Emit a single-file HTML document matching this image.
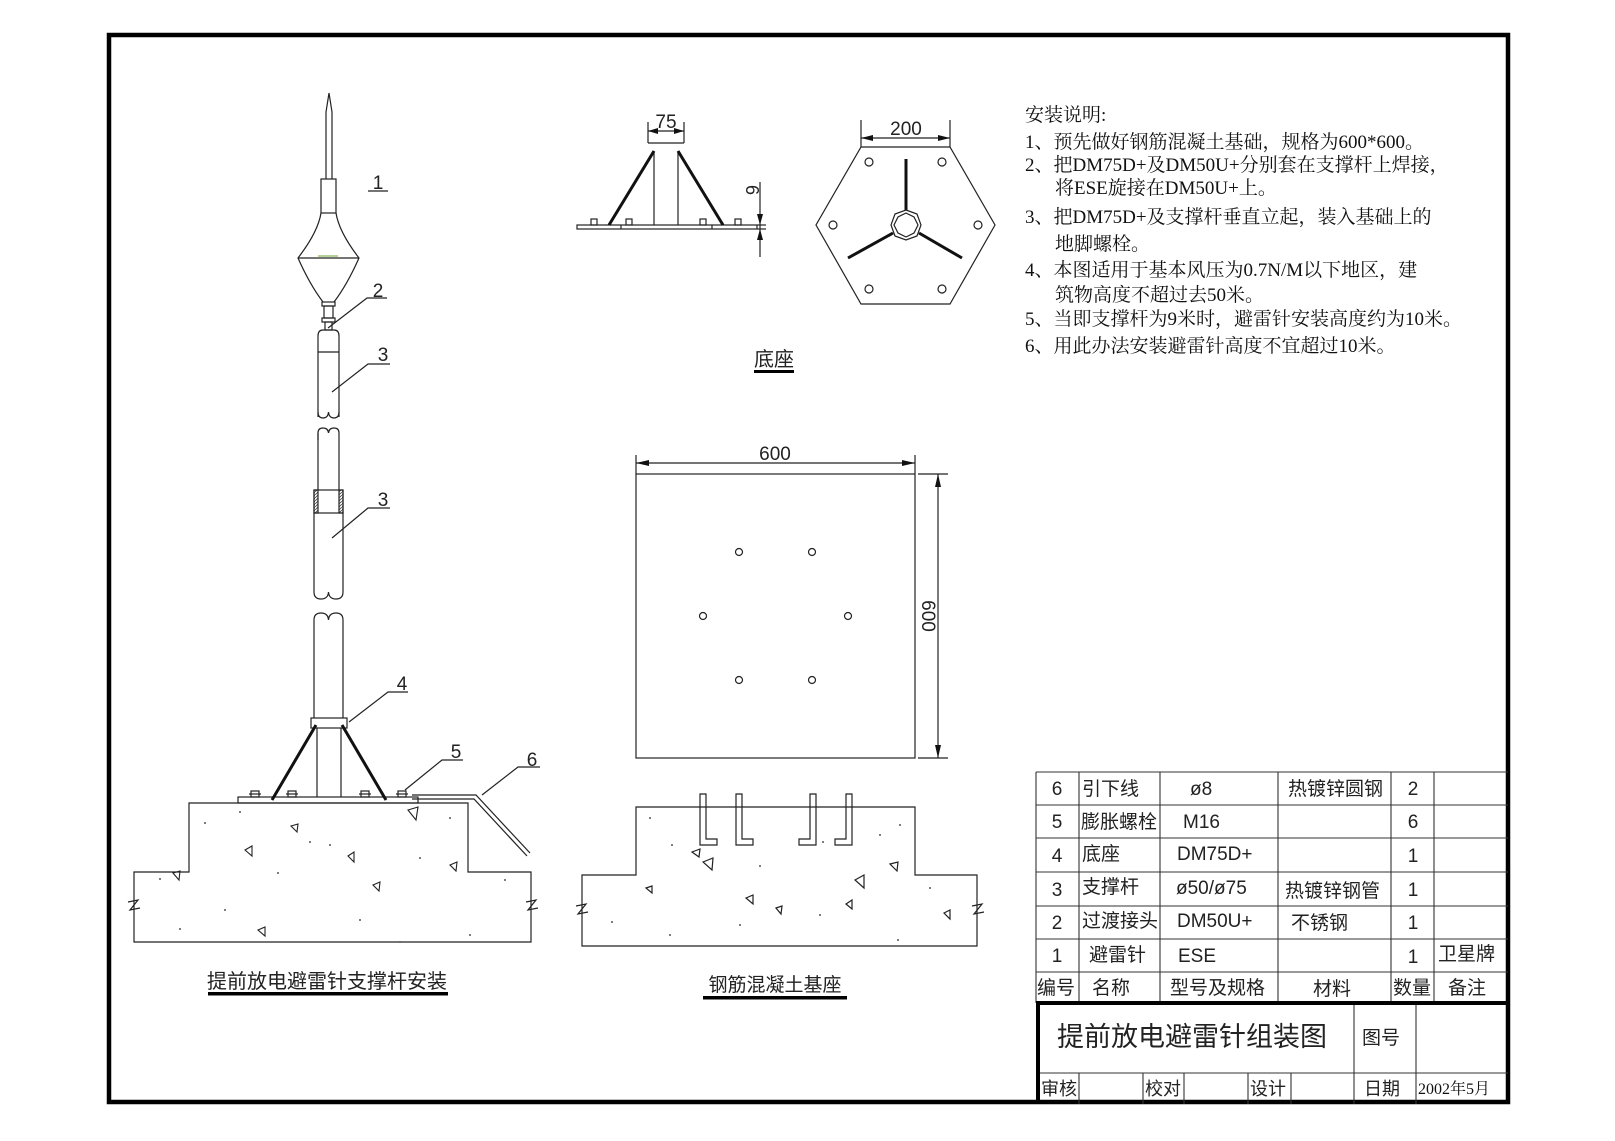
<!DOCTYPE html>
<html><head><meta charset="utf-8"><style>
html,body{margin:0;padding:0;background:#fff;}
svg{display:block;}
.t{font-family:"Liberation Sans","Noto Sans CJK SC",sans-serif;fill:#222;}
.s{font-family:"Liberation Serif","Noto Serif CJK SC",serif;fill:#111;}
</style></head><body>
<svg width="1615" height="1141" viewBox="0 0 1615 1141" xmlns="http://www.w3.org/2000/svg">
<rect width="1615" height="1141" fill="#fff"/>
<!-- frame -->
<rect x="109" y="35" width="1399" height="1067" fill="none" stroke="#000" stroke-width="4.5"/>

<g fill="none" stroke="#222" stroke-width="1.2">
<!-- ===== Rod assembly ===== -->
<path d="M329,93 L326,112 L326,179 M329,93 L332,112 L332,179"/>
<rect x="321" y="179" width="15" height="34"/>
<path d="M321,213 Q318,232 298,258 Q310,285 323,302 M336,213 Q339,232 359,258 Q347,285 334,302"/>
<line x1="298" y1="258" x2="359" y2="258"/>
<line x1="318" y1="256" x2="338" y2="256" stroke="#6a3" stroke-width="1"/>
<rect x="322" y="302" width="13" height="4"/>
<rect x="324" y="306" width="9" height="12"/>
<rect x="322" y="318" width="13" height="4"/>
<rect x="325" y="322" width="7" height="8"/>
<path d="M318,417 V336 Q318,330 323,330 H334 Q339,330 339,336 V417"/>
<line x1="318" y1="352" x2="339" y2="352"/>
<path d="M318,412 Q318,418 323,418 Q328,418 328.5,412 Q329,418 334,418 Q339,418 339,412"/>
<path d="M318,440 V433 Q318,428 323,428 Q328,428 328.5,433 Q329,428 334,428 Q339,428 339,433 V490"/>
<line x1="318" y1="433" x2="318" y2="490"/>
<rect x="314" y="490" width="29" height="23"/>
<rect x="314" y="490" width="4" height="23" fill="url(#hat)"/>
<rect x="339" y="490" width="4" height="23" fill="url(#hat)"/>
<path d="M314,513 V592 Q314,599 321,599 Q328,599 328.5,592 Q329,599 336,599 Q343,599 343,592 V513"/>
<path d="M314,718 V620 Q314,613 321,613 Q328,613 328.5,620 Q329,613 336,613 Q343,613 343,620 V718"/>
<rect x="311" y="718" width="36" height="10"/>
<line x1="317" y1="728" x2="317" y2="797"/>
<line x1="341" y1="728" x2="341" y2="797"/>
<rect x="238" y="797" width="180" height="6"/>
<!-- bolts -->
<g>
<rect x="251" y="791" width="8" height="6"/><line x1="249" y1="794" x2="261" y2="794"/>
<rect x="288" y="791" width="8" height="6"/><line x1="286" y1="794" x2="298" y2="794"/>
<rect x="361" y="791" width="8" height="6"/><line x1="359" y1="794" x2="371" y2="794"/>
<rect x="398" y="791" width="8" height="6"/><line x1="396" y1="794" x2="408" y2="794"/>
</g>
<!-- wire 6 -->
<path d="M412,795 H476 L530,853 M412,799 H474 L527,856"/>
<!-- concrete left -->
<path d="M189,803 H468 V872 H531 V942 H134 V872 H189 Z"/>
<path d="M128,902 L138,900 L130,910 L140,908"/>
<path d="M526,902 L536,900 L528,910 L538,908"/>
<!-- leaders -->
<path d="M368,191 H388"/>
<path d="M328,328 L367,298 H387"/>
<path d="M332,392 L368,364 H390"/>
<path d="M332,538 L368,508 H390"/>
<path d="M349,722 L388,692 H408"/>
<path d="M405,790 L442,760 H463"/>
<path d="M482,795 L518,767 H540"/>
</g>
<g stroke="#111" stroke-width="3" fill="none">
<line x1="316" y1="725" x2="272" y2="800"/>
<line x1="342" y1="725" x2="386" y2="800"/>
</g>
<defs><pattern id="hat" width="3" height="3" patternUnits="userSpaceOnUse"><path d="M0,3 L3,0" stroke="#444" stroke-width="0.8"/></pattern></defs>

<!-- triangles & dots left concrete -->
<g fill="none" stroke="#222" stroke-width="1.1">
<path d="M408,810 L418,807 L416,820 Z"/><path d="M291,826 L298,824 L297,832 Z"/>
<path d="M245,850 L252,846 L252,856 Z"/><path d="M348,856 L354,852 L354,862 Z"/>
<path d="M450,865 L457,862 L456,871 Z"/><path d="M373,885 L380,882 L379,891 Z"/>
<path d="M173,873 L180,871 L179,880 Z"/><path d="M258,930 L265,927 L265,936 Z"/>
</g>
<g fill="#555">
<circle cx="240" cy="812" r="1"/><circle cx="205" cy="823" r="1"/><circle cx="310" cy="842" r="1"/><circle cx="330" cy="845" r="1"/><circle cx="160" cy="879" r="1"/><circle cx="180" cy="929" r="1"/><circle cx="420" cy="858" r="1"/><circle cx="450" cy="818" r="1"/><circle cx="278" cy="873" r="1"/><circle cx="360" cy="920" r="1"/><circle cx="470" cy="935" r="1"/><circle cx="505" cy="880" r="1"/><circle cx="225" cy="910" r="1"/><circle cx="400" cy="942" r="1"/>
</g>

<!-- ===== base side view ===== -->
<g fill="none" stroke="#222" stroke-width="1.2">
<rect x="577" y="225" width="180" height="4"/>
<line x1="621" y1="225" x2="621" y2="229"/><line x1="712" y1="225" x2="712" y2="229"/>
<line x1="654" y1="151" x2="654" y2="225"/><line x1="678" y1="151" x2="678" y2="225"/>
<rect x="591" y="219" width="6" height="6"/><rect x="626" y="219" width="6" height="6"/><rect x="700" y="219" width="6" height="6"/><rect x="735" y="219" width="6" height="6"/>
<line x1="648" y1="122" x2="648" y2="143"/><line x1="684" y1="122" x2="684" y2="143"/>
<line x1="648" y1="131" x2="684" y2="131"/>
<line x1="648" y1="143" x2="684" y2="143"/>
<line x1="760" y1="182" x2="760" y2="257"/>
<line x1="757" y1="225" x2="766" y2="225"/><line x1="757" y1="229" x2="766" y2="229"/>
</g>
<g stroke="#111" stroke-width="3"><line x1="654" y1="151" x2="609" y2="225"/><line x1="678" y1="151" x2="723" y2="225"/></g>
<g fill="#111">
<path d="M648,131 L658,128 L658,134 Z"/><path d="M684,131 L674,128 L674,134 Z"/>
<path d="M760,225 L757,214 L763,214 Z"/><path d="M760,229 L757,240 L763,240 Z"/>
</g>
<text x="666" y="128" class="t" font-size="19" text-anchor="middle">75</text>
<text transform="translate(746,190) rotate(90)" class="t" font-size="18" text-anchor="middle">6</text>

<!-- hexagon -->
<g fill="none" stroke="#222" stroke-width="1.2">
<polygon points="861,147 950,147 995,225 950,304 861,304 816,225"/>
<line x1="861" y1="120" x2="861" y2="147"/><line x1="950" y1="120" x2="950" y2="147"/>
<line x1="861" y1="138" x2="950" y2="138"/>
<polygon points="906,210 917,214 921,225 917,236 906,240 895,236 891,225 895,214"/>
<polygon points="906,213 914,217 918,225 914,233 906,237 898,233 894,225 898,217"/>
<circle cx="869" cy="162" r="4"/><circle cx="942" cy="162" r="4"/><circle cx="833" cy="225" r="4"/><circle cx="978" cy="225" r="4"/><circle cx="869" cy="289" r="4"/><circle cx="942" cy="289" r="4"/>
</g>
<g stroke="#111" stroke-width="3"><line x1="906" y1="159" x2="906" y2="210"/><line x1="893" y1="233" x2="848" y2="258"/><line x1="919" y1="233" x2="962" y2="258"/></g>
<g fill="#111"><path d="M861,138 L873,135 L873,141 Z"/><path d="M950,138 L938,135 L938,141 Z"/></g>
<text x="906" y="135" class="t" font-size="19" text-anchor="middle">200</text>
<text x="774" y="366" class="t" font-size="20" text-anchor="middle">底座</text>
<rect x="754" y="370" width="40" height="3" fill="#000"/>

<!-- ===== square plan ===== -->
<g fill="none" stroke="#222" stroke-width="1.2">
<rect x="636" y="474" width="279" height="284"/>
<line x1="636" y1="455" x2="636" y2="474"/><line x1="915" y1="455" x2="915" y2="474"/>
<line x1="636" y1="463" x2="915" y2="463"/>
<line x1="918" y1="474" x2="948" y2="474"/><line x1="918" y1="758" x2="948" y2="758"/>
<line x1="938" y1="474" x2="938" y2="758"/>
<circle cx="739" cy="552" r="3.5"/><circle cx="812" cy="552" r="3.5"/><circle cx="703" cy="616" r="3.5"/><circle cx="848" cy="616" r="3.5"/><circle cx="739" cy="680" r="3.5"/><circle cx="812" cy="680" r="3.5"/>
</g>
<g fill="#111"><path d="M636,463 L649,460 L649,466 Z"/><path d="M915,463 L902,460 L902,466 Z"/><path d="M938,474 L935,487 L941,487 Z"/><path d="M938,758 L935,745 L941,745 Z"/></g>
<text x="775" y="460" class="t" font-size="19" text-anchor="middle">600</text>
<text transform="translate(922,616) rotate(90)" class="t" font-size="19" text-anchor="middle">600</text>

<!-- concrete right -->
<g fill="none" stroke="#222" stroke-width="1.2">
<path d="M636,807 H915 V875 H977 V946 H582 V875 H636 Z"/>
<path d="M576,906 L586,904 L578,914 L588,912"/>
<path d="M972,906 L982,904 L974,914 L984,912"/>
<path d="M700,794 V845 H717 V839 H706 V794 Z"/>
<path d="M736,794 V845 H753 V839 H742 V794 Z"/>
<path d="M816,794 V845 H799 V839 H810 V794 Z"/>
<path d="M852,794 V845 H835 V839 H846 V794 Z"/>
<path d="M692,852 L700,849 L699,857 Z"/><path d="M703,862 L713,858 L712,870 Z"/>
<path d="M646,888 L652,886 L652,893 Z"/><path d="M746,898 L753,895 L753,904 Z"/>
<path d="M776,908 L782,906 L781,914 Z"/><path d="M855,880 L864,875 L864,888 Z"/>
<path d="M846,904 L852,900 L852,909 Z"/><path d="M890,864 L898,862 L897,871 Z"/>
<path d="M944,913 L950,910 L950,919 Z"/>
</g>
<g fill="#555"><circle cx="650" cy="818" r="1"/><circle cx="672" cy="845" r="1"/><circle cx="760" cy="866" r="1"/><circle cx="823" cy="842" r="1"/><circle cx="880" cy="835" r="1"/><circle cx="900" cy="825" r="1"/><circle cx="612" cy="922" r="1"/><circle cx="670" cy="935" r="1"/><circle cx="740" cy="925" r="1"/><circle cx="820" cy="915" r="1"/><circle cx="930" cy="888" r="1"/><circle cx="898" cy="940" r="1"/></g>

<!-- captions -->
<text x="327" y="988" class="t" font-size="20" text-anchor="middle">提前放电避雷针支撑杆安装</text>
<rect x="208" y="992" width="240" height="3.5" fill="#000"/>
<text x="775" y="991" class="t" font-size="19" text-anchor="middle">钢筋混凝土基座</text>
<rect x="703" y="996" width="144" height="3.5" fill="#000"/>

<!-- part labels -->
<g class="t" font-size="19" text-anchor="middle" fill="#333">
<text x="378" y="189">1</text><text x="378" y="297">2</text><text x="383" y="361">3</text><text x="383" y="506">3</text><text x="402" y="690">4</text><text x="456" y="758">5</text><text x="532" y="766">6</text>
</g>

<!-- notes -->
<g class="s" font-size="19">
<text x="1025" y="121">安装说明:</text>
<text x="1025" y="148">1、预先做好钢筋混凝土基础，规格为600*600。</text>
<text x="1025" y="171">2、把DM75D+及DM50U+分别套在支撑杆上焊接，</text>
<text x="1055" y="194">将ESE旋接在DM50U+上。</text>
<text x="1025" y="223">3、把DM75D+及支撑杆垂直立起，装入基础上的</text>
<text x="1055" y="250">地脚螺栓。</text>
<text x="1025" y="276">4、本图适用于基本风压为0.7N/M以下地区，建</text>
<text x="1055" y="301">筑物高度不超过去50米。</text>
<text x="1025" y="325">5、当即支撑杆为9米时，避雷针安装高度约为10米。</text>
<text x="1025" y="352">6、用此办法安装避雷针高度不宜超过10米。</text>
</g>

<!-- table -->
<g fill="none" stroke="#333" stroke-width="1.1">
<line x1="1036" y1="772" x2="1508" y2="772"/><line x1="1036" y1="805" x2="1508" y2="805"/><line x1="1036" y1="838" x2="1508" y2="838"/><line x1="1036" y1="872" x2="1508" y2="872"/><line x1="1036" y1="906" x2="1508" y2="906"/><line x1="1036" y1="939" x2="1508" y2="939"/><line x1="1036" y1="972" x2="1508" y2="972"/>
<line x1="1036" y1="772" x2="1036" y2="1003"/><line x1="1079" y1="772" x2="1079" y2="1003"/><line x1="1160" y1="772" x2="1160" y2="1003"/><line x1="1278" y1="772" x2="1278" y2="1003"/><line x1="1391" y1="772" x2="1391" y2="1003"/><line x1="1434" y1="772" x2="1434" y2="1003"/>
<line x1="1038" y1="1073" x2="1508" y2="1073"/>
<line x1="1354" y1="1003" x2="1354" y2="1104"/><line x1="1416" y1="1003" x2="1416" y2="1104"/>
<line x1="1079" y1="1073" x2="1079" y2="1104"/><line x1="1143" y1="1073" x2="1143" y2="1104"/><line x1="1184" y1="1073" x2="1184" y2="1104"/><line x1="1248" y1="1073" x2="1248" y2="1104"/><line x1="1291" y1="1073" x2="1291" y2="1104"/>
</g>
<g stroke="#000" stroke-width="4"><line x1="1036" y1="1003" x2="1510" y2="1003"/><line x1="1038" y1="1003" x2="1038" y2="1104"/></g>
<g class="t" font-size="19" fill="#333">
<text x="1057" y="795" text-anchor="middle">6</text><text x="1082" y="795">引下线</text><text x="1190" y="795">ø8</text><text x="1288" y="795">热镀锌圆钢</text><text x="1413" y="795" text-anchor="middle">2</text>
<text x="1057" y="828" text-anchor="middle">5</text><text x="1081" y="828">膨胀螺栓</text><text x="1183" y="828">M16</text><text x="1413" y="828" text-anchor="middle">6</text>
<text x="1057" y="862" text-anchor="middle">4</text><text x="1082" y="860">底座</text><text x="1177" y="860">DM75D+</text><text x="1413" y="862" text-anchor="middle">1</text>
<text x="1057" y="896" text-anchor="middle">3</text><text x="1082" y="893">支撑杆</text><text x="1176" y="894">ø50/ø75</text><text x="1285" y="897">热镀锌钢管</text><text x="1413" y="896" text-anchor="middle">1</text>
<text x="1057" y="929" text-anchor="middle">2</text><text x="1082" y="927">过渡接头</text><text x="1177" y="927">DM50U+</text><text x="1291" y="929">不锈钢</text><text x="1413" y="929" text-anchor="middle">1</text>
<text x="1057" y="962" text-anchor="middle">1</text><text x="1089" y="961">避雷针</text><text x="1178" y="962">ESE</text><text x="1413" y="963" text-anchor="middle">1</text><text x="1438" y="960">卫星牌</text>
<text x="1037" y="994">编号</text><text x="1092" y="994">名称</text><text x="1170" y="994">型号及规格</text><text x="1313" y="995">材料</text><text x="1393" y="994">数量</text><text x="1448" y="994">备注</text>
</g>
<text x="1057" y="1046" class="t" font-size="27" fill="#222">提前放电避雷针组装图</text>
<text x="1362" y="1044" class="t" font-size="19" fill="#222">图号</text>
<g class="t" font-size="18" fill="#222">
<text x="1041" y="1095">审核</text><text x="1145" y="1095">校对</text><text x="1250" y="1095">设计</text><text x="1364" y="1095">日期</text>
</g>
<text x="1418" y="1094" class="s" font-size="16" fill="#222">2002年5月</text>
</svg>
</body></html>
